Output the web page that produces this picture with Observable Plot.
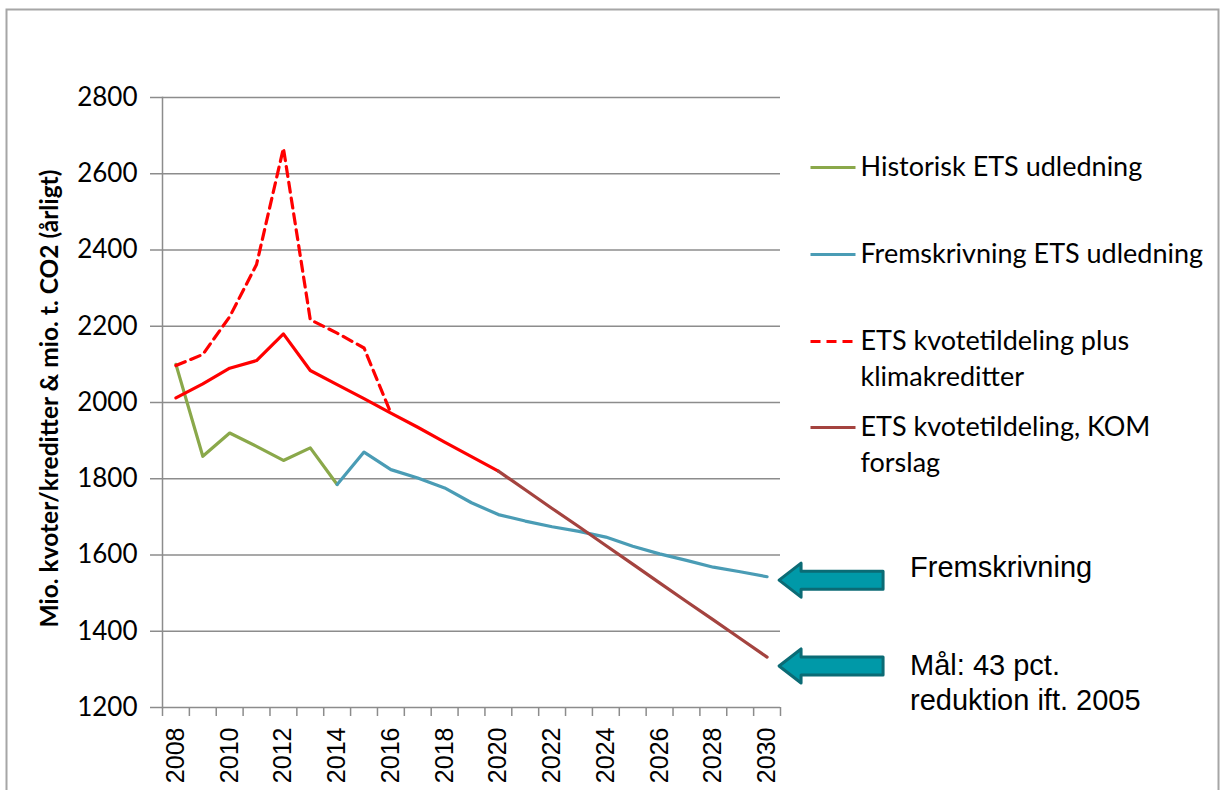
<!DOCTYPE html>
<html><head><meta charset="utf-8">
<script src="https://cdn.jsdelivr.net/npm/d3@7"></script>
<script src="https://cdn.jsdelivr.net/npm/@observablehq/plot@0.6"></script>
<style>body{margin:0;background:#fff;}</style>
</head><body><div id="chart"></div>
<script>
// ---- data ----
const years = [2008,2009,2010,2011,2012,2013,2014,2015,2016,2017,2018,2019,2020,2021,2022,2023,2024,2025,2026,2027,2028,2029,2030];
const historisk = [2100,1859,1920,1885,1848,1881,1785];            // 2008-2014
const fremskrivning = [1785,1870,1824,1802,1776,1737,1706,1689,1674,1662,1647,1623,1603,1586,1568,1556,1543]; // 2014-2030
const kvotePlusKredit = [2097,2126,2225,2362,2667,2217,2182,2143,1972]; // 2008-2016
const kvotetildeling = [2012,2049,2090,2110,2180,2084,2047,2010,1972,1935,1896,1858,1820]; // 2008-2020
const komForslag = [1820,1771,1722,1674,1625,1576,1527,1478,1430,1381,1332]; // 2020-2030
const yTicks = [1200,1400,1600,1800,2000,2200,2400,2600,2800];
const xLabelYears = [2008,2010,2012,2014,2016,2018,2020,2022,2024,2026,2028,2030];
const xTickBounds = [2007.5,2008.5,2009.5,2010.5,2011.5,2012.5,2013.5,2014.5,2015.5,2016.5,2017.5,2018.5,2019.5,2020.5,2021.5,2022.5,2023.5,2024.5,2025.5,2026.5,2027.5,2028.5,2029.5,2030.5];
const yTitle = "Mio. kvoter/kreditter & mio. t. CO2 (årligt)";
const legendLabels = ["Historisk ETS udledning","Fremskrivning ETS udledning","ETS kvotetildeling plus\nklimakreditter","ETS kvotetildeling, KOM\nforslag"];
const colors = ["#8aa84a","#4a9cb5","#ff0000","#a4433f"];
const annotFrem = [{text:"Fremskrivning", value:1534}];
const annotMaal = [{text:"Mål: 43 pct.\nreduktion ift. 2005", value:1309}];

const series = (vals, start) => vals.map((v,i) => ({year: years[years.indexOf(start)+i], value: v}));
const dHist = series(historisk, 2008);
const dFrem = series(fremskrivning, 2014);
const dPlus = series(kvotePlusKredit, 2008);
const dKvote = series(kvotetildeling, 2008);
const dKom = series(komForslag, 2020);

const grid = "#8c8c8c";
const lastYear = years[years.length-1];

const lineSym = {draw(ctx){ ctx.moveTo(-22.5,0); ctx.lineTo(22.5,0); }};
const arrowSym = {draw(ctx){
  ctx.moveTo(0,0); ctx.lineTo(22,-17); ctx.lineTo(22,-9); ctx.lineTo(104,-9);
  ctx.lineTo(104,9); ctx.lineTo(22,9); ctx.lineTo(22,17); ctx.closePath();
}};

const legendRowCenters = [167,254,341,427];
const legendMarks = [];
legendLabels.forEach((lab,i) => {
  legendMarks.push(Plot.dot([lab], {frameAnchor:"top-left", dx:670.5, dy:legendRowCenters[i]-97, r:1,
    symbol: lineSym, stroke: colors[i], strokeWidth: 3.2, fill:"none",
    strokeDasharray: i===2 ? "10,6" : null}));
  legendMarks.push(Plot.text([lab], {frameAnchor:"top-left", text: d=>d, dx:698, dy:legendRowCenters[i]-97-17.5,
    textAnchor:"start", lineAnchor:"top", lineHeight:1.333, fontSize:27, fontFamily:"Lato", fill:"#000"}));
});

const chart = Plot.plot({
  width: 1223, height: 790,
  marginLeft: 162, marginRight: 443, marginTop: 97, marginBottom: 83,
  x: {domain: [2007.5, 2030.5], axis: null},
  y: {domain: [1200, 2800], axis: null},
  style: {fontFamily: "Lato", background: "#fff", color: "#000"},
  marks: [
    Plot.frame({insetLeft:-156, insetTop:-88, insetRight:-438, insetBottom:-95, stroke:"#a6a6a6", strokeWidth:2}),
    Plot.ruleY(yTicks, {stroke: grid, strokeWidth: 1.5}),
    Plot.frame({anchor:"left", stroke: grid, strokeWidth: 1.5}),
    Plot.axisY({ticks: yTicks, tickSize: 12, tickPadding: 13, tickFormat: d => String(d), fontSize: 26, fontFamily: "Lato",
      stroke: grid, strokeWidth: 1.5, fill: "#000", label: null}),
    Plot.axisX({ticks: xTickBounds, tickSize: 9, tickFormat: () => "", stroke: grid, strokeWidth: 1.5, label: null}),
    Plot.axisX({ticks: xLabelYears, tickSize: 0, tickRotate: -90, tickPadding: 20, fontSize: 25, fontFamily: "Liberation Sans",
      tickFormat: d => String(d), fill: "#000", label: null}),
    Plot.text([yTitle], {frameAnchor:"left", text: d=>d, rotate:-90, textAnchor:"middle", dx:-112, dy:-4,
      fontWeight:"bold", fontSize:24.5, fontFamily:"Lato", fill:"#000"}),
    Plot.line(dHist, {x:"year", y:"value", stroke: colors[0], strokeWidth: 3.2}),
    Plot.line(dFrem, {x:"year", y:"value", stroke: colors[1], strokeWidth: 3.2}),
    Plot.line(dPlus, {x:"year", y:"value", stroke: colors[2], strokeWidth: 3.2, strokeDasharray:"10,6"}),
    Plot.line(dKvote, {x:"year", y:"value", stroke: colors[2], strokeWidth: 3.2}),
    Plot.line(dKom, {x:"year", y:"value", stroke: colors[3], strokeWidth: 3.2}),
    ...legendMarks,
    Plot.dot([...annotFrem, ...annotMaal], {x: () => lastYear, y:"value", dx: 12, r: 1, symbol: arrowSym,
      fill:"#0099a8", stroke:"#0b6b75", strokeWidth:3, strokeLinejoin:"round"}),
    Plot.text(annotFrem, {x: () => lastYear, y:"value", text:"text", dx:143, dy:-12, textAnchor:"start", lineAnchor:"middle",
      fontSize:29, fontFamily:"Liberation Sans", fill:"#000"}),
    Plot.text(annotMaal, {x: () => lastYear, y:"value", text:"text", dx:143, dy:15, textAnchor:"start", lineAnchor:"middle",
      lineHeight:1.21, fontSize:29, fontFamily:"Liberation Sans", fill:"#000"})
  ]
});
document.getElementById("chart").appendChild(chart);
</script>
</body></html>
